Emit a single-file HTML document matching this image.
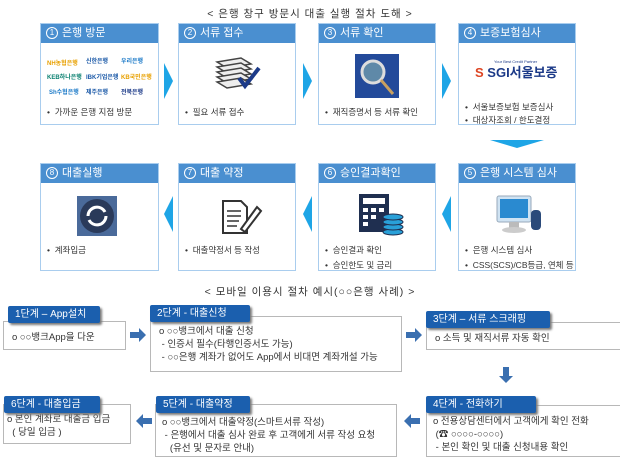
<!DOCTYPE html><html><head><meta charset="utf-8"><style>
body{margin:0;width:620px;height:461px;background:#fff;position:relative;overflow:hidden;font-family:"Liberation Sans","Noto Sans CJK KR",sans-serif;color:#222}
.a{position:absolute}
.card{position:absolute;border:1px solid #a9cdee;background:#fff;box-sizing:border-box}
.hd{position:absolute;left:0;right:0;top:0;height:19px;background:#4a8fd0;color:#fff;font-size:11px;line-height:19px;padding-left:5px}
.n{display:inline-block;width:10px;height:10px;border:1px solid #fff;border-radius:50%;font-size:8px;line-height:10px;text-align:center;margin-right:4px;vertical-align:1px}
.b{position:absolute;left:6px;font-size:8.5px;color:#333;white-space:nowrap}
.chev{position:absolute;width:0;height:0;border-top:18px solid transparent;border-bottom:18px solid transparent}
.r{border-left:9px solid #1ea5e6}.l{border-right:9px solid #1ea5e6}
.box{position:absolute;border:1px solid #b8b8b8;background:#fff;box-sizing:border-box;font-size:9.5px;line-height:13px;color:#333;white-space:nowrap}
.lab{position:absolute;background:#1b5fae;color:#fff;font-size:10px;line-height:17px;height:17px;padding-left:7px;box-sizing:border-box;box-shadow:2px 2px 2px #7a7a7a;border-radius:2px}
.title{position:absolute;left:0;width:620px;text-align:center;font-size:10.5px;color:#333;letter-spacing:1px}
.logo{position:absolute;font-size:6px;font-weight:bold;white-space:nowrap}
</style></head><body>
<div class="title" style="top:6px">&lt; 은행 창구 방문시 대출 실행 절차 도해 &gt;</div>

<div class="card" style="left:40px;top:23px;width:119px;height:102px"><div class="hd"><span class="n">1</span>은행 방문</div>
<div class="logo" style="left:6px;top:34px;color:#e8a000">NH농협은행</div><div class="logo" style="left:45px;top:32px;color:#1c5aa8">신한은행</div><div class="logo" style="left:80px;top:32px;color:#1c7ac8">우리은행</div>
<div class="logo" style="left:6px;top:48px;color:#0a8070">KEB하나은행</div><div class="logo" style="left:45px;top:48px;color:#1c5aa8">IBK기업은행</div><div class="logo" style="left:80px;top:48px;color:#e8a000">KB국민은행</div>
<div class="logo" style="left:8px;top:63px;color:#1c7ac8">Sh수협은행</div><div class="logo" style="left:45px;top:63px;color:#1c5aa8">제주은행</div><div class="logo" style="left:80px;top:63px;color:#1c3a88">전북은행</div>
<div class="b" style="top:82px">•&nbsp; 가까운 은행 지점 방문</div></div>

<div class="card" style="left:178px;top:23px;width:118px;height:102px"><div class="hd"><span class="n">2</span>서류 접수</div>
<svg class="a" style="left:36px;top:32px" width="46" height="36"><g fill="#eee" stroke="#444" stroke-width="1.5"><path d="M2 6 L26 2 L36 8 L12 12Z"/><path d="M2 11 L26 7 L36 13 L12 17Z"/><path d="M2 16 L26 12 L36 18 L12 22Z"/><path d="M2 21 L26 17 L36 23 L12 27Z"/><path d="M2 26 L26 22 L36 28 L12 32Z"/></g><path d="M24 22 L30 30 L44 12" stroke="#1c3a88" stroke-width="4" fill="none"/></svg>
<div class="b" style="top:82px">•&nbsp; 필요 서류 접수</div></div>

<div class="card" style="left:318px;top:23px;width:118px;height:102px"><div class="hd"><span class="n">3</span>서류 확인</div>
<svg class="a" style="left:36px;top:30px" width="44" height="44"><rect width="44" height="44" fill="#234a9a"/><circle cx="18" cy="18" r="11" fill="#5f89a8" stroke="#ddd" stroke-width="3"/><path d="M26 26 L38 40" stroke="#c8a060" stroke-width="3"/></svg>
<div class="b" style="top:82px">•&nbsp; 재직증명서 등 서류 확인</div></div>

<div class="card" style="left:458px;top:23px;width:118px;height:102px"><div class="hd"><span class="n">4</span>보증보험심사</div>
<div class="a" style="left:35px;top:35px;font-size:4px;color:#1c3a88">Your Best Credit Partner</div>
<div class="a" style="left:16px;top:38px;font-size:13px;font-weight:bold;color:#1c3a88;white-space:nowrap"><span style="color:#d42">S</span> SGI서울보증</div>
<div class="b" style="top:77px">•&nbsp; 서울보증보험 보증심사</div><div class="b" style="top:90px">•&nbsp; 대상자조회 / 한도결정</div></div>

<div class="chev r" style="left:164px;top:63px"></div><div class="chev r" style="left:303px;top:63px"></div><div class="chev r" style="left:442px;top:63px"></div>
<div class="a" style="left:490px;top:140px;width:0;height:0;border-left:27px solid transparent;border-right:27px solid transparent;border-top:8px solid #1ea5e6"></div>

<div class="card" style="left:40px;top:163px;width:119px;height:108px"><div class="hd"><span class="n">8</span>대출실행</div>
<svg class="a" style="left:36px;top:32px" width="40" height="40"><rect width="40" height="40" fill="#4a6a9a"/><circle cx="20" cy="20" r="17" fill="#2a3a5a"/><path d="M11 20 A9 9 0 0 1 28 16 M29 20 A9 9 0 0 1 12 24" stroke="#fff" stroke-width="3" fill="none"/></svg>
<div class="b" style="top:80px">•&nbsp; 계좌입금</div></div>
<div class="card" style="left:178px;top:163px;width:118px;height:108px"><div class="hd"><span class="n">7</span>대출 약정</div>
<svg class="a" style="left:42px;top:35px" width="44" height="36"><path d="M2 2 H20 L26 8 V34 H2Z" fill="#fff" stroke="#333" stroke-width="2"/><path d="M6 12H20M6 17H20M6 22H18M6 27H16" stroke="#333" stroke-width="1.5"/><path d="M20 30 L36 8 L40 12 L24 33Z" fill="#fff" stroke="#333" stroke-width="2"/></svg>
<div class="b" style="top:80px">•&nbsp; 대출약정서 등 작성</div></div>
<div class="card" style="left:318px;top:163px;width:118px;height:108px"><div class="hd"><span class="n">6</span>승인결과확인</div>
<svg class="a" style="left:38px;top:30px" width="48" height="42"><rect x="2" y="0" width="30" height="38" fill="#1f2f50"/><g fill="#fff"><rect x="6" y="4" width="22" height="6"/><rect x="6" y="14" width="5" height="4"/><rect x="14" y="14" width="5" height="4"/><rect x="22" y="14" width="5" height="4"/><rect x="6" y="21" width="5" height="4"/><rect x="14" y="21" width="5" height="4"/><rect x="6" y="28" width="5" height="4"/></g><g fill="#29a0d8" stroke="#1f2f50"><ellipse cx="36" cy="38" rx="10" ry="3"/><ellipse cx="36" cy="33" rx="10" ry="3"/><ellipse cx="36" cy="28" rx="10" ry="3"/><ellipse cx="36" cy="23" rx="10" ry="3"/></g></svg>
<div class="b" style="top:80px">•&nbsp; 승인결과 확인</div><div class="b" style="top:95px">•&nbsp; 승인한도 및 금리</div></div>
<div class="card" style="left:458px;top:163px;width:118px;height:108px"><div class="hd"><span class="n">5</span>은행 시스템 심사</div>
<svg class="a" style="left:36px;top:30px" width="50" height="44"><rect x="2" y="2" width="34" height="26" rx="2" fill="#cfe3f3" stroke="#9ab"/><rect x="5" y="5" width="28" height="19" fill="#2a8ad0"/><rect x="14" y="28" width="10" height="6" fill="#bbb"/><ellipse cx="19" cy="36" rx="12" ry="3" fill="#ccc"/><rect x="36" y="16" width="10" height="20" rx="4" fill="#2a4a7a"/></svg>
<div class="b" style="top:80px">•&nbsp; 은행 시스템 심사</div><div class="b" style="top:95px">•&nbsp; CSS(SCS)/CB등급, 연체 등</div></div>

<div class="chev l" style="left:164px;top:196px"></div><div class="chev l" style="left:303px;top:196px"></div><div class="chev l" style="left:442px;top:196px"></div>

<div class="title" style="top:284px">&lt; 모바일 이용시 절차 예시(○○은행 사례) &gt;</div>

<div class="box" style="left:3px;top:321px;width:123px;height:29px;padding:9px 0 0 8px">o ○○뱅크App을 다운</div>
<div class="lab" style="left:8px;top:306px;width:92px">1단계 – App설치</div>
<div class="box" style="left:150px;top:316px;width:252px;height:56px;padding:8px 0 0 8px">o ○○뱅크에서 대출 신청<br>&nbsp;- 인증서 필수(타행인증서도 가능)<br>&nbsp;- ○○은행 계좌가 없어도 App에서 비대면 계좌개설 가능</div>
<div class="lab" style="left:150px;top:305px;width:100px">2단계 - 대출신청</div>
<div class="box" style="left:426px;top:322px;width:196px;height:28px;padding:9px 0 0 8px">o 소득 및 재직서류 자동 확인</div>
<div class="lab" style="left:426px;top:311px;width:124px">3단계 – 서류 스크래핑</div>

<div class="box" style="left:3px;top:404px;width:128px;height:40px;padding:8px 0 0 3px">o 본인 계좌로 대출금 입금<br>&nbsp;&nbsp;( 당일 입금 )</div>
<div class="lab" style="left:4px;top:396px;width:96px">6단계 - 대출입금</div>
<div class="box" style="left:155px;top:404px;width:242px;height:53px;padding:11px 0 0 6px">o ○○뱅크에서 대출약정(스마트서류 작성)<br>&nbsp;- 은행에서 대출 심사 완료 후 고객에게 서류 작성 요청<br>&nbsp;&nbsp;&nbsp;(유선 및 문자로 안내)</div>
<div class="lab" style="left:156px;top:396px;width:94px">5단계 - 대출약정</div>
<div class="box" style="left:426px;top:405px;width:196px;height:52px;padding:9px 0 0 6px">o 전용상담센터에서 고객에게 확인 전화<br>&nbsp;(☎ ○○○○-○○○○)<br>&nbsp;- 본인 확인 및 대출 신청내용 확인</div>
<div class="lab" style="left:426px;top:396px;width:110px">4단계 - 전화하기</div>

<svg class="a" style="left:130px;top:328px" width="16" height="14"><path d="M0 4H9V0L16 7L9 14V10H0Z" fill="#3a6fb0"/></svg>
<svg class="a" style="left:406px;top:328px" width="16" height="14"><path d="M0 4H9V0L16 7L9 14V10H0Z" fill="#3a6fb0"/></svg>
<svg class="a" style="left:499px;top:367px" width="14" height="16"><path d="M4 0H10V9H14L7 16L0 9H4Z" fill="#3a6fb0"/></svg>
<svg class="a" style="left:136px;top:414px" width="16" height="14"><path d="M16 4H7V0L0 7L7 14V10H16Z" fill="#3a6fb0"/></svg>
<svg class="a" style="left:404px;top:414px" width="16" height="14"><path d="M16 4H7V0L0 7L7 14V10H16Z" fill="#3a6fb0"/></svg>
</body></html>
